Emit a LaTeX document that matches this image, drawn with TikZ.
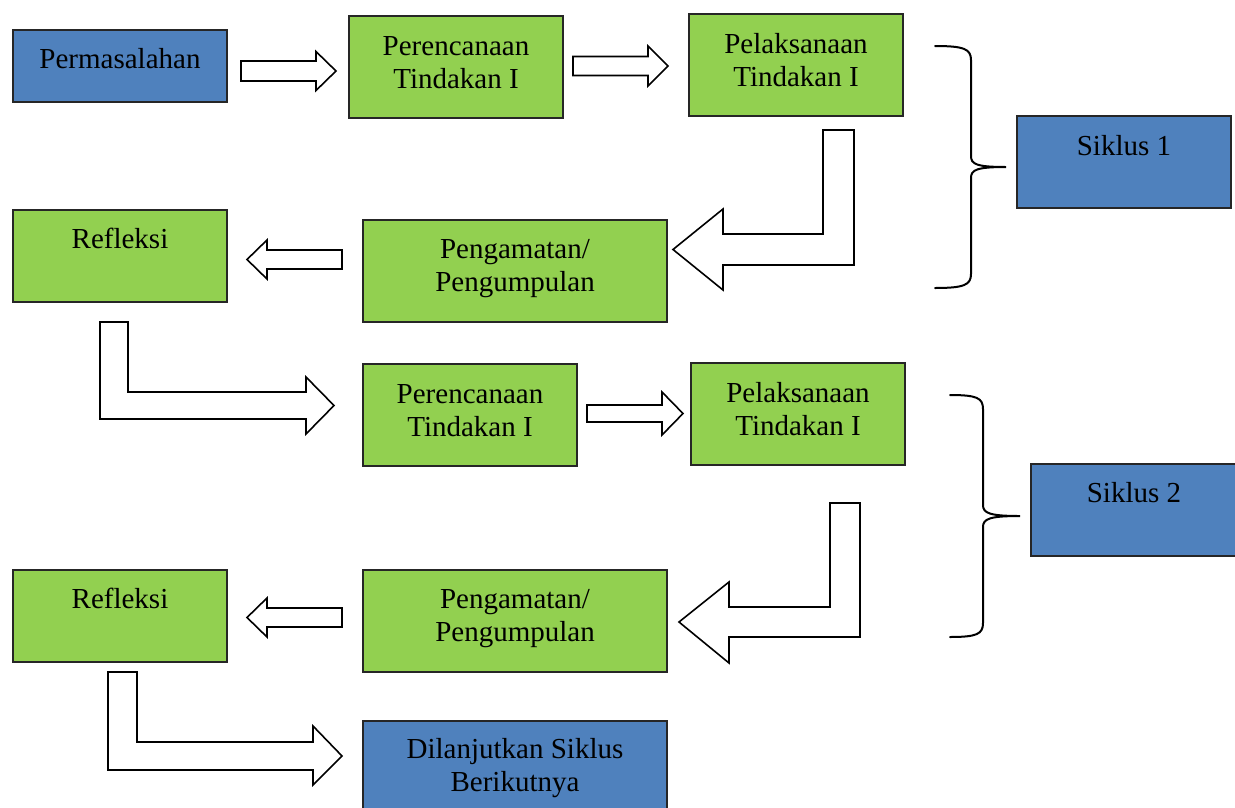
\documentclass[tikz,border=0pt]{standalone}
\usepackage{fontspec}
\setmainfont{Liberation Serif}
\usetikzlibrary{calc}
\definecolor{boxblue}{HTML}{4F81BD}
\definecolor{boxgreen}{HTML}{92D050}
\newcommand{\bxt}[4]{\parbox[c][#2pt][t]{#1pt}{\centering\rule{0pt}{#3pt}#4}}
\newcommand{\hblk}[5]{\draw[blk] #1 ++(0,-#3) -- ++({#2-#5},0) -- ++(0,{#3-#4}) -- ++(#5,#4) -- ++(-#5,#4) -- ++(0,{#3-#4}) -- ++({-(#2-#5)},0) -- cycle;}
\tikzset{
  bx/.style={draw=black!85, line width=1.1pt, inner sep=0pt, outer sep=0pt, anchor=north west,
     font=\fontsize{29}{33}\selectfont},
  bblue/.style={bx, fill=boxblue},
  bgreen/.style={bx, fill=boxgreen},
  blk/.style={draw=black, fill=white, line width=1.6pt, line join=miter},
  brc/.style={draw=black, line width=2pt, line cap=round}
}
\begin{document}
\begin{tikzpicture}[x=1pt,y=-1pt]
\useasboundingbox (0,0) rectangle (1235,807);
% boxes
\node[bblue]  (perm)  at (13,30)   {\bxt{214}{72}{38}{Permasalahan}};
\node[bgreen] (pere1) at (349,16)  {\bxt{214}{102}{39}{Perencanaan\\Tindakan I}};
\node[bgreen] (pel1)  at (689,14)  {\bxt{214}{102}{39}{Pelaksanaan\\Tindakan I}};
\node[bblue]  (sik1)  at (1017,116){\bxt{214}{92}{39}{Siklus 1}};
\node[bgreen] (ref1)  at (13,210)  {\bxt{214}{92}{38}{Refleksi}};
\node[bgreen] (peng1) at (363,220) {\bxt{304}{102}{38}{Pengamatan/\\Pengumpulan}};
\node[bgreen] (pere2) at (363,364) {\bxt{214}{102}{39}{Perencanaan\\Tindakan I}};
\node[bgreen] (pel2)  at (691,363) {\bxt{214}{102}{39}{Pelaksanaan\\Tindakan I}};
\node[bblue]  (sik2)  at (1031,464){\bxt{206}{92}{38}{Siklus 2}};
\node[bgreen] (ref2)  at (13,570)  {\bxt{214}{92}{38}{Refleksi}};
\node[bgreen] (peng2) at (363,570) {\bxt{304}{102}{38}{Pengamatan/\\Pengumpulan}};
\node[bblue]  (dil)   at (363,721) {\bxt{304}{90}{37}{Dilanjutkan Siklus\\Berikutnya}};
% straight block arrows
\hblk{($(perm.east)+(14,5)$)}{95}{10}{19.5}{20}
\hblk{($(pere1.east)+(10,-1)$)}{95}{9.5}{20}{20}
\hblk{($(peng1.west)+(-21,-11.5)$)}{-95}{9.5}{19.5}{-20}
\hblk{($(pere2.east)+(10,-1.5)$)}{96}{8.5}{21.5}{21}
\hblk{($(peng2.west)+(-21,-3.5)$)}{-95}{9.5}{19.5}{-20}
% bent block arrows
\draw[blk] ($(pel1.south)+(27,14)$) -- ++(31,0) -- ++(0,135) -- ++(-131,0) -- ++(0,25)
   -- ++(-50,-40.5) -- ++(50,-40.5) -- ++(0,25) -- ++(100,0) -- cycle;
\draw[blk] ($(ref1.south)+(-20,20)$) -- ++(28,0) -- ++(0,70) -- ++(178,0) -- ++(0,-15)
   -- ++(28,28.5) -- ++(-28,28.5) -- ++(0,-15) -- ++(-206,0) -- cycle;
\draw[blk] ($(pel2.south)+(32,38)$) -- ++(30,0) -- ++(0,134) -- ++(-131,0) -- ++(0,26)
   -- ++(-50,-41) -- ++(50,-40) -- ++(0,25) -- ++(101,0) -- cycle;
\draw[blk] ($(ref2.south)+(-12,10)$) -- ++(29,0) -- ++(0,70) -- ++(176,0) -- ++(0,-16)
   -- ++(29,30) -- ++(-29,29) -- ++(0,-15) -- ++(-205,0) -- cycle;
% braces
\draw[brc] (935,46) .. controls (964,46) and (971,49) .. (971,60) -- (971,156)
   .. controls (971,164) and (976,167) .. (1006,167)
   .. controls (976,167) and (971,170) .. (971,178) -- (971,274)
   .. controls (971,285) and (964,288) .. (935,288);
\draw[brc] (950,395) .. controls (977,395) and (983,398) .. (983,409) -- (983,505)
   .. controls (983,513) and (989,516) .. (1020,516)
   .. controls (989,516) and (983,519) .. (983,527) -- (983,623)
   .. controls (983,634) and (977,637) .. (950,637);
\end{tikzpicture}
\end{document}
